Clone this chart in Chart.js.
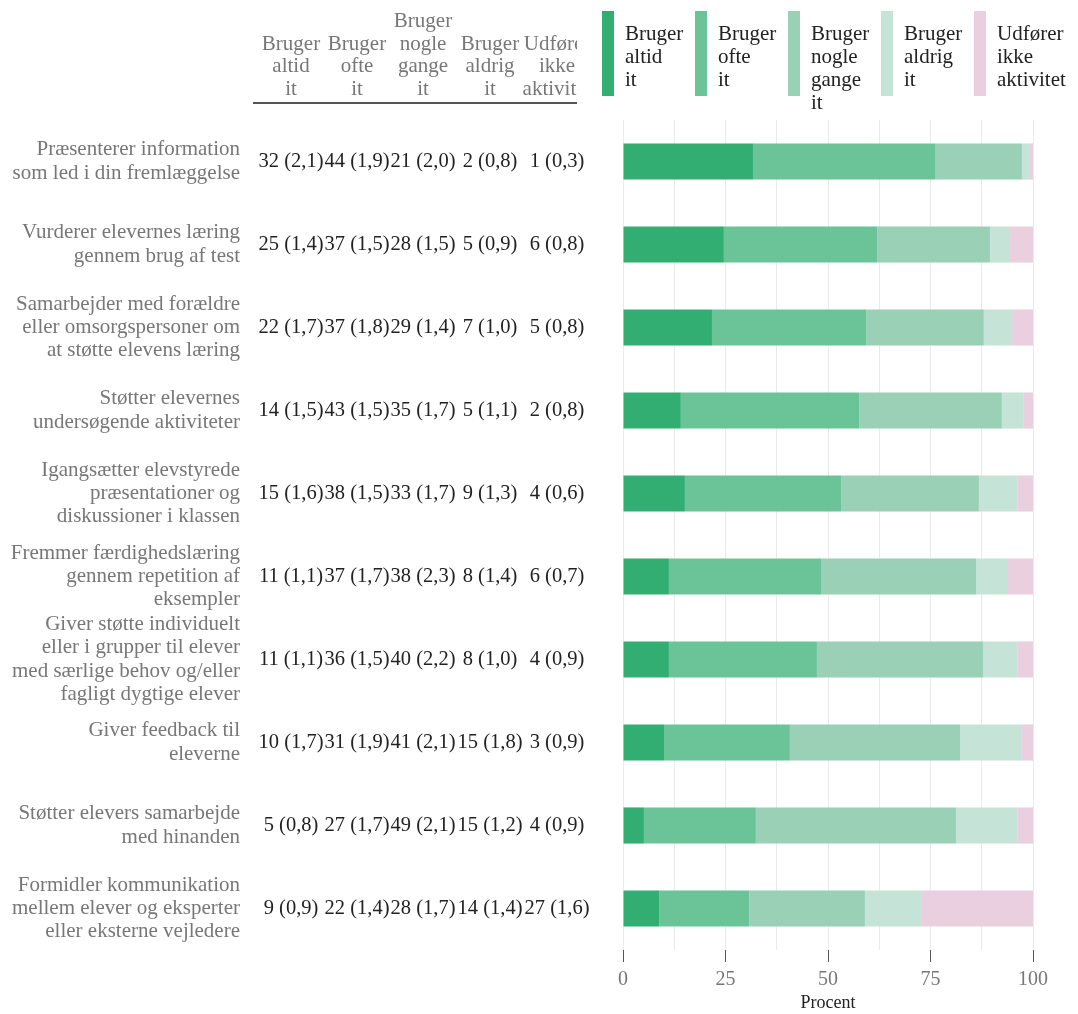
<!DOCTYPE html>
<html><head><meta charset="utf-8">
<script src="https://cdn.jsdelivr.net/npm/chart.js@4"></script>
<style>html,body{margin:0;padding:0;background:#fff;}</style>
</head><body>
<canvas id="c" width="1078" height="1014" style="display:block"></canvas>
<script>
const categories = [
  ["Præsenterer information","som led i din fremlæggelse"],
  ["Vurderer elevernes læring","gennem brug af test"],
  ["Samarbejder med forældre","eller omsorgspersoner om","at støtte elevens læring"],
  ["Støtter elevernes","undersøgende aktiviteter"],
  ["Igangsætter elevstyrede","præsentationer og","diskussioner i klassen"],
  ["Fremmer færdighedslæring","gennem repetition af","eksempler"],
  ["Giver støtte individuelt","eller i grupper til elever","med særlige behov og/eller","fagligt dygtige elever"],
  ["Giver feedback til","eleverne"],
  ["Støtter elevers samarbejde","med hinanden"],
  ["Formidler kommunikation","mellem elever og eksperter","eller eksterne vejledere"]
];
const seriesNames = ["Bruger altid it","Bruger ofte it","Bruger nogle gange it","Bruger aldrig it","Udfører ikke aktivitet"];
const seriesColors = ["#32ae73","#6bc398","#99d0b6","#c5e3d6","#ead0de"];

const altid  = [31.7,24.6,21.7,14.1,15.1,11.2,11.2,10.0,5.1,8.9];
const ofte   = [44.4,37.4,37.6,43.5,38.1,37.1,36.1,30.7,27.3,21.9];
const nogle  = [21.2,27.5,28.7,34.8,33.6,37.8,40.5,41.5,48.8,28.2];
const aldrig = [1.7,4.9,6.9,5.2,9.5,7.8,8.5,14.9,15.1,13.9];
const ikke   = [1.0,5.6,5.1,2.4,3.7,6.1,3.7,2.9,3.7,27.1];

const tableAltid  = ["32 (2,1)","25 (1,4)","22 (1,7)","14 (1,5)","15 (1,6)","11 (1,1)","11 (1,1)","10 (1,7)","5 (0,8)","9 (0,9)"];
const tableOfte   = ["44 (1,9)","37 (1,5)","37 (1,8)","43 (1,5)","38 (1,5)","37 (1,7)","36 (1,5)","31 (1,9)","27 (1,7)","22 (1,4)"];
const tableNogle  = ["21 (2,0)","28 (1,5)","29 (1,4)","35 (1,7)","33 (1,7)","38 (2,3)","40 (2,2)","41 (2,1)","49 (2,1)","28 (1,7)"];
const tableAldrig = ["2 (0,8)","5 (0,9)","7 (1,0)","5 (1,1)","9 (1,3)","8 (1,4)","8 (1,0)","15 (1,8)","15 (1,2)","14 (1,4)"];
const tableIkke   = ["1 (0,3)","6 (0,8)","5 (0,8)","2 (0,8)","4 (0,6)","6 (0,7)","4 (0,9)","3 (0,9)","4 (0,9)","27 (1,6)"];

const xTickLabels = [0,25,50,75,100];
const xTitle = "Procent";

const FONT = "'Liberation Serif', 'DejaVu Serif', serif";
const seriesValues = [altid, ofte, nogle, aldrig, ikke];
const tableCols = [tableAltid, tableOfte, tableNogle, tableAldrig, tableIkke];

const sidePlugin = {
  id: 'side',
  afterDraw(chart) {
    const ctx = chart.ctx;
    const y = chart.scales.y;
    const colCenters = [291, 357, 423, 490, 557];
    ctx.save();
    // header
    ctx.beginPath();
    ctx.rect(250, 0, 327, 110);
    ctx.clip();
    ctx.font = "21px " + FONT;
    ctx.fillStyle = "#777777";
    ctx.textAlign = "center";
    ctx.textBaseline = "middle";
    seriesNames.forEach((name, i) => {
      const words = name.split(" ");
      words.forEach((w, k) => {
        const yy = 89 - (words.length - 1 - k) * 22.5;
        ctx.fillText(w, colCenters[i], yy);
      });
    });
    ctx.restore();
    ctx.save();
    ctx.strokeStyle = "#555555";
    ctx.lineWidth = 2;
    ctx.beginPath();
    ctx.moveTo(253, 103);
    ctx.lineTo(577, 103);
    ctx.stroke();
    // table values
    ctx.font = "20.5px " + FONT;
    ctx.fillStyle = "#222222";
    ctx.textAlign = "center";
    ctx.textBaseline = "middle";
    categories.forEach((c, r) => {
      const py = y.getPixelForValue(r);
      tableCols.forEach((col, i) => ctx.fillText(col[r], colCenters[i], py));
    });
    // legend
    ctx.font = "21px " + FONT;
    ctx.textAlign = "left";
    seriesNames.forEach((name, i) => {
      const x0 = 602 + 93 * i;
      ctx.fillStyle = seriesColors[i];
      ctx.fillRect(x0, 11, 12, 85);
      ctx.fillStyle = "#222222";
      name.split(" ").forEach((w, k) => ctx.fillText(w, x0 + 23, 34 + k * 23));
    });
    ctx.restore();
  }
};

new Chart(document.getElementById('c'), {
  type: 'bar',
  data: {
    labels: categories,
    datasets: seriesNames.map((n, i) => ({
      label: n,
      data: seriesValues[i],
      backgroundColor: seriesColors[i],
      borderWidth: 0,
      barPercentage: 0.435,
      categoryPercentage: 1
    }))
  },
  options: {
    indexAxis: 'y',
    responsive: false,
    animation: false,
    layout: { padding: { top: 120, right: 45, bottom: 0, left: 0 } },
    plugins: { legend: { display: false }, tooltip: { enabled: false } },
    scales: {
      x: {
        stacked: true, min: 0, max: 100,
        border: { display: false },
        grid: {
          color: '#ebebeb', lineWidth: 1, tickLength: 12,
          tickColor: c => xTickLabels.includes(c.tick && c.tick.value) ? '#555555' : 'rgba(0,0,0,0)'
        },
        ticks: {
          stepSize: 12.5, autoSkip: false, maxRotation: 0, padding: 6,
          color: '#777777', font: { family: FONT, size: 20 },
          callback: v => xTickLabels.includes(v) ? String(v) : ''
        },
        title: { display: true, text: xTitle, color: '#222222', font: { family: FONT, size: 18 }, padding: { top: 0, bottom: 0 } },
        afterFit: s => { s.height = 64; s.paddingLeft = 0; s.paddingRight = 0; }
      },
      y: {
        stacked: true,
        border: { display: false },
        grid: { display: false, drawTicks: false },
        ticks: {
          autoSkip: false, padding: 383, crossAlign: 'near',
          color: '#777777', font: { family: FONT, size: 21, lineHeight: 1.1 }
        },
        afterFit: s => { s.width = 623; s.paddingTop = 0; s.paddingBottom = 0; }
      }
    }
  },
  plugins: [sidePlugin]
});
</script>
</body></html>
